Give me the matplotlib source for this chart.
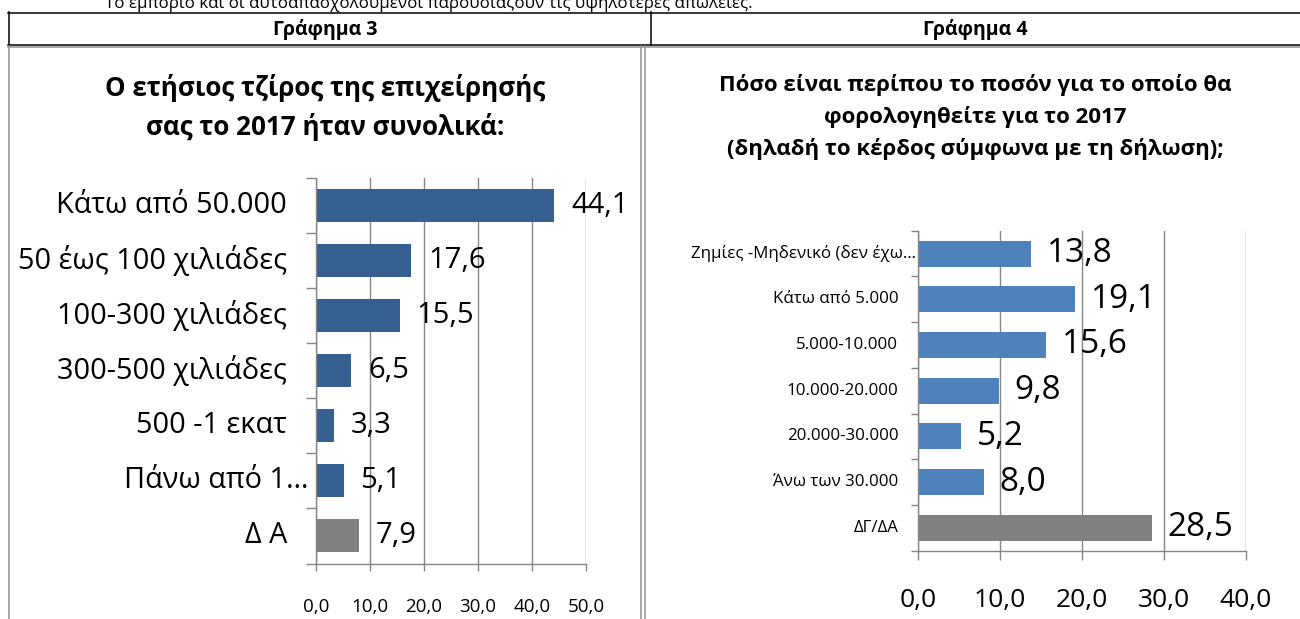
import matplotlib
matplotlib.use("Agg")
import matplotlib.pyplot as plt
from matplotlib.lines import Line2D
from matplotlib.ticker import FuncFormatter
import numpy as np

plt.rcParams['font.family'] = ['Open Sans', 'DejaVu Sans']

# Γράφημα 3
turnover_labels = ["Κάτω από 50.000", "50 έως 100 χιλιάδες", "100-300 χιλιάδες",
                   "300-500 χιλιάδες", "500 -1 εκατ", "Πάνω από 1…", "Δ Α"]
turnover_values = [44.1, 17.6, 15.5, 6.5, 3.3, 5.1, 7.9]

# Γράφημα 4
tax_labels = ["Ζημίες -Μηδενικό (δεν έχω…", "Κάτω από 5.000", "5.000-10.000",
              "10.000-20.000", "20.000-30.000", "Άνω των 30.000", "ΔΓ/ΔΑ"]
tax_values = [13.8, 19.1, 15.6, 9.8, 5.2, 8.0, 28.5]

top_line = "Το εμπόριο και οι αυτοαπασχολούμενοι παρουσιάζουν τις υψηλότερες απώλειες."
header_left = "Γράφημα 3"
header_right = "Γράφημα 4"
title_left = ["Ο ετήσιος τζίρος της επιχείρησής", "σας το 2017 ήταν συνολικά:"]
title_right = ["Πόσο είναι περίπου το ποσόν για το οποίο θα",
               "φορολογηθείτε για το 2017",
               "(δηλαδή το κέρδος σύμφωνα με τη δήλωση);"]

W, H = 1300, 619
GRID = "#868686"
BORDER = "#8f8f8f"


def fx(x):
    return x / W


def fy(y):
    return 1 - y / H


def comma(v, pos=None):
    return f"{v:.1f}".replace(".", ",")


fig = plt.figure(figsize=(W / 100, H / 100), dpi=100)

# table lines
def hline(y, x0, x1, color, lw):
    fig.add_artist(Line2D([fx(x0), fx(x1)], [fy(y), fy(y)], color=color, lw=lw,
                          transform=fig.transFigure))


def vline(x, y0, y1, color, lw):
    fig.add_artist(Line2D([fx(x), fx(x)], [fy(y0), fy(y1)], color=color, lw=lw,
                          transform=fig.transFigure))


hline(12.5, 8, 1301, "black", 1.1)
hline(45, 8, 1301, "black", 1.1)
vline(8.5, 12, 45, "black", 1.1)
vline(651, 12, 45, "black", 1.1)
hline(47, 8, 1301, BORDER, 1.1)
vline(8.5, 46, 620, BORDER, 1.1)
vline(641, 46, 620, BORDER, 1.1)
vline(644.5, 46, 620, BORDER, 1.1)

# sentence above the table, cut at the top edge like in the source page
fig.text(fx(105), fy(8.5), top_line, fontsize=12.2, va="baseline", ha="left")
fig.text(fx(325), fy(29), header_left, fontsize=14, fontweight="bold", ha="center", va="center")
fig.text(fx(975), fy(29), header_right, fontsize=14, fontweight="bold", ha="center", va="center")

for line, y in zip(title_left, [88, 127]):
    fig.text(fx(325), fy(y), line, fontsize=18.7, fontweight="bold", ha="center", va="center")
for line, y in zip(title_right, [85, 117, 149]):
    fig.text(fx(975), fy(y), line, fontsize=16, fontweight="bold", ha="center", va="center")


def bar_panel(rect, labels, values, colors, bar_h, xmax, xstep, cat_fs, val_fs, tick_fs,
              label_gap, trunc_gap, val_pad, xtick_len, ytick_len, tick_pad):
    ax = fig.add_axes(rect)
    y = np.arange(len(labels))
    ax.barh(y, values, height=bar_h, color=colors, zorder=2)
    ax.set_xlim(0, xmax)
    ax.set_ylim(len(labels) - 0.5, -0.5)
    ax.set_xticks(np.arange(0, xmax + 0.1, xstep))
    ax.xaxis.set_major_formatter(FuncFormatter(comma))
    ax.set_yticks(np.arange(-0.5, len(labels)))
    ax.set_yticklabels([])
    ax.grid(axis="x", color=GRID, lw=1.0, zorder=0)
    ax.set_axisbelow(True)
    for s in ["top", "right"]:
        ax.spines[s].set_visible(False)
    for s in ["left", "bottom"]:
        ax.spines[s].set_color(GRID)
        ax.spines[s].set_linewidth(1.0)
    ax.tick_params(axis="x", length=xtick_len, width=1.0, color=GRID, labelsize=tick_fs,
                   pad=tick_pad)
    ax.tick_params(axis="y", length=ytick_len, width=1.0, color=GRID)
    ax.patch.set_alpha(0)
    trans = ax.get_yaxis_transform()
    for yi, lab in zip(y, labels):
        gap = trunc_gap if lab.endswith("…") else label_gap
        ax.annotate(lab, xy=(0, yi), xycoords=trans, xytext=(-gap, 0),
                    textcoords="offset pixels", ha="right", va="center", fontsize=cat_fs)
    for yi, v in zip(y, values):
        ax.annotate(comma(v), xy=(v, yi), xytext=(val_pad, 0), textcoords="offset pixels",
                    ha="left", va="center", fontsize=val_fs)
    return ax


left_colors = ["#376092"] * 6 + ["#808080"]
right_colors = ["#4f81bd"] * 6 + ["#808080"]

bar_panel([fx(316), fy(563.5), fx(586) - fx(316), fy(177.5) - fy(563.5)],
          turnover_labels, turnover_values, left_colors, 0.6, 50, 10,
          cat_fs=20.8, val_fs=21, tick_fs=13.5, label_gap=29, trunc_gap=8, val_pad=17,
          xtick_len=5, ytick_len=7, tick_pad=20)

bar_panel([fx(918.3), fy(550.7), fx(1245.7) - fx(918.3), fy(230.7) - fy(550.7)],
          tax_labels, tax_values, right_colors, 0.57, 40, 10,
          cat_fs=12.2, val_fs=24, tick_fs=19, label_gap=20, trunc_gap=2, val_pad=16,
          xtick_len=6.5, ytick_len=5, tick_pad=20)

fig.savefig("out.png", dpi=100)
